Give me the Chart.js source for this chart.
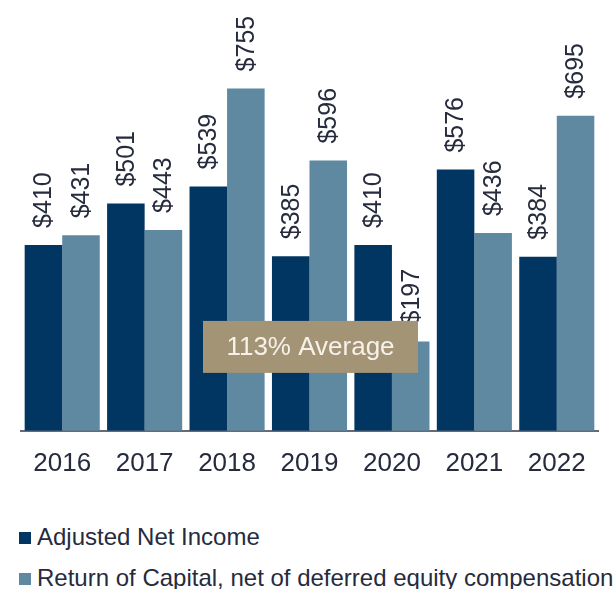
<!DOCTYPE html>
<html>
<head>
<meta charset="utf-8">
<script src="https://cdn.jsdelivr.net/npm/chart.js@4/dist/chart.umd.min.js"></script>
<style>
    body { margin: 0; background: #fff; font-family: "Liberation Sans", Arial, sans-serif; }
    #wrap { position: relative; width: 614px; height: 589px; }
    #chart-box { position: absolute; left: 0; top: 0; width: 614px; height: 496px; }
    .legend-item { position: absolute; left: 19px; font-size: 24px; line-height: 28px; color: #262b3d; white-space: nowrap; }
    .legend-item span { display: inline-block; width: 12px; height: 12px; margin-right: 6px; vertical-align: 1px; }
</style>
</head>
<body>
<div id="wrap">
    <div id="chart-box"><canvas id="returns-chart"></canvas></div>
    <div id="legend"></div>
</div>
<script>
const years = ['2016', '2017', '2018', '2019', '2020', '2021', '2022'];
const adjustedNetIncome = [410, 501, 539, 385, 410, 576, 384];
const returnOfCapital = [431, 443, 755, 596, 197, 436, 695];
const seriesNames = ['Adjusted Net Income', 'Return of Capital, net of deferred equity compensation'];
const averageLabel = '113% Average';

const textColor = '#262b3d';

// rotated $ labels above each bar
const barLabels = {
    id: 'barLabels',
    afterDatasetsDraw(chart) {
        const ctx = chart.ctx;
        ctx.save();
        ctx.font = '25px "Liberation Sans", Arial, sans-serif';
        ctx.fillStyle = textColor;
        ctx.textAlign = 'left';
        ctx.textBaseline = 'middle';
        chart.data.datasets.forEach((ds, i) => {
            chart.getDatasetMeta(i).data.forEach((bar, j) => {
                ctx.save();
                ctx.translate(bar.x + 1, bar.y - 17);
                ctx.rotate(-Math.PI / 2);
                ctx.fillText('$' + ds.data[j], 0, 0);
                ctx.restore();
            });
        });
        ctx.restore();
    }
};

// "113% Average" callout box over the middle of the chart
const averageBox = {
    id: 'averageBox',
    afterDraw(chart) {
        const ctx = chart.ctx;
        const cx = chart.scales.x.getPixelForValue(3) + 1;
        const cy = chart.scales.y.getPixelForValue(185);
        const w = 215, h = 52;
        ctx.save();
        ctx.fillStyle = '#a39476';
        ctx.fillRect(cx - w / 2, cy - h / 2, w, h);
        ctx.fillStyle = '#f6f2ea';
        ctx.font = '26px "Liberation Sans", Arial, sans-serif';
        ctx.textAlign = 'center';
        ctx.textBaseline = 'middle';
        ctx.fillText(averageLabel, cx, cy + 1);
        ctx.restore();
    }
};

const colors = ['#023662', '#5f88a1'];

const chart = new Chart(document.getElementById('returns-chart'), {
    type: 'bar',
    data: {
        labels: years,
        datasets: [
            { label: seriesNames[0], data: adjustedNetIncome, backgroundColor: colors[0] },
            { label: seriesNames[1], data: returnOfCapital, backgroundColor: colors[1] }
        ]
    },
    options: {
        responsive: true,
        maintainAspectRatio: false,
        animation: false,
        layout: { padding: { left: 21, right: 16, top: 0, bottom: 0 } },
        datasets: { bar: { categoryPercentage: 0.911, barPercentage: 1.0 } },
        plugins: { legend: { display: false }, tooltip: { enabled: false } },
        scales: {
            x: {
                grid: { display: false, drawTicks: false },
                border: { display: true, color: '#676b78', width: 2 },
                ticks: { color: textColor, font: { size: 26, family: '"Liberation Sans", Arial, sans-serif' }, padding: 17 }
            },
            y: { display: false, min: 0, max: 950 }
        }
    },
    plugins: [barLabels, averageBox]
});

// legend below the chart
const legend = document.getElementById('legend');
seriesNames.forEach((name, i) => {
    const item = document.createElement('div');
    item.className = 'legend-item';
    item.style.top = (523 + i * 41) + 'px';
    item.innerHTML = `<span style="background:${colors[i]}"></span>${name}`;
    legend.appendChild(item);
});
</script>
</body>
</html>
